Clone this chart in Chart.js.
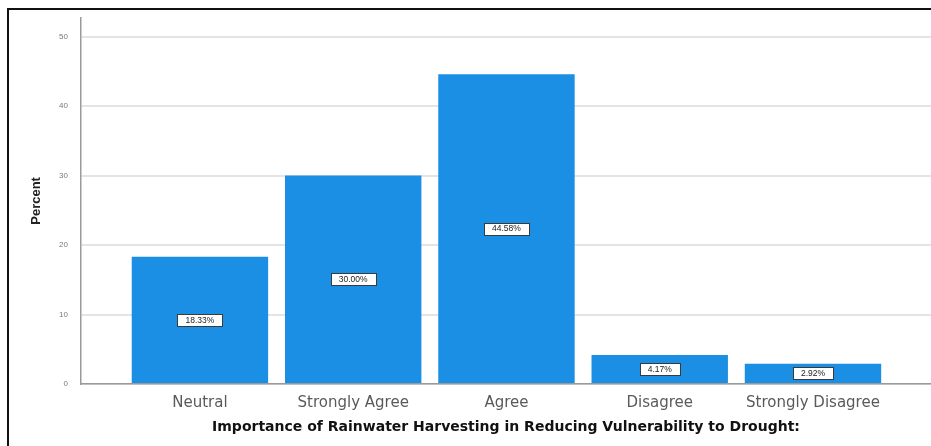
<!DOCTYPE html>
<html>
<head>
<meta charset="utf-8">
<script src="https://cdn.jsdelivr.net/npm/chart.js@4.4.1/dist/chart.umd.min.js"></script>
<style>
  html, body { margin: 0; padding: 0; background: #fff; }
  #wrap { position: relative; width: 931px; height: 446px; }
  #frame {
    position: absolute; left: 7px; top: 8px; right: 0; bottom: 0;
    border-left: 2px solid #111; border-top: 2px solid #111;
    pointer-events: none;
  }
</style>
</head>
<body>
<div id="wrap">
  <canvas id="chart" width="931" height="446"></canvas>
  <div id="frame"></div>
</div>
<script>
// Survey responses (percent of respondents)
const categories = ['Neutral', 'Strongly Agree', 'Agree', 'Disagree', 'Strongly Disagree'];
const percentValues = [18.33, 30.00, 44.58, 4.17, 2.92];
const yTicks = [0, 10, 20, 30, 40, 50];
const xAxisTitle = 'Importance of Rainwater Harvesting in Reducing Vulnerability to Drought:';
const yAxisTitle = 'Percent';

const barColor = '#1a8fe4';

// Boxed percentage label in the middle of each bar
const valueBoxes = {
  id: 'valueBoxes',
  afterDatasetsDraw(chart) {
    const ctx = chart.ctx;
    const meta = chart.getDatasetMeta(0);
    ctx.save();
    ctx.font = '8.5px "Liberation Sans", Arial, sans-serif';
    ctx.textAlign = 'center';
    ctx.textBaseline = 'middle';
    meta.data.forEach((bar, i) => {
      const v = chart.data.datasets[0].data[i].y;
      const text = v.toFixed(2) + '%';
      const cy = (bar.y + bar.base) / 2;
      const w = Math.round(ctx.measureText(text).width + 16);
      const h = 12;
      const x0 = Math.round(bar.x - w / 2) + 0.5;
      const y0 = Math.round(cy - h / 2) + 0.5;
      ctx.fillStyle = '#ffffff';
      ctx.fillRect(x0, y0, w, h);
      ctx.strokeStyle = '#3a3a3a';
      ctx.lineWidth = 1;
      ctx.strokeRect(x0, y0, w, h);
      ctx.fillStyle = '#222';
      ctx.fillText(text, bar.x, cy + 0.5);
    });
    ctx.restore();
  }
};

new Chart(document.getElementById('chart'), {
  type: 'bar',
  data: {
    datasets: [{
      data: percentValues.map((v, i) => ({ x: i, y: v })),
      backgroundColor: barColor,
      borderWidth: 0,
      categoryPercentage: 1,
      barPercentage: 0.89
    }]
  },
  options: {
    responsive: false,
    animation: false,
    events: [],
    layout: { padding: { top: 10, right: 0, left: 0, bottom: 0 } },
    plugins: { legend: { display: false }, tooltip: { enabled: false } },
    scales: {
      x: {
        type: 'linear',
        offset: false,
        min: -0.776,
        max: 4.77,
        grid: { display: false, drawTicks: false, offset: false },
        border: { display: true, color: '#9a9a9a', width: 1.5 },
        afterBuildTicks(scale) { scale.ticks = categories.map((_, i) => ({ value: i })); },
        afterFit(scale) { scale.height = 62; },
        ticks: {
          autoSkip: false,
          maxRotation: 0,
          padding: 10,
          color: '#5a5a5a',
          font: { family: '"DejaVu Sans", sans-serif', size: 15 },
          callback: (v) => categories[v] ?? ''
        },
        title: {
          display: true,
          text: xAxisTitle,
          color: '#111',
          font: { family: '"DejaVu Sans", sans-serif', size: 14, weight: 'bold' },
          padding: { top: 0, bottom: 10 }
        }
      },
      y: {
        min: 0,
        max: 52.7,
        grid: { color: '#e4e4e4', lineWidth: 2, drawTicks: false },
        border: { display: true, color: '#9a9a9a', width: 1.5 },
        afterBuildTicks(scale) { scale.ticks = yTicks.map(v => ({ value: v })); },
        afterFit(scale) { scale.width = 81; },
        ticks: {
          padding: 13,
          color: '#7a7a7a',
          font: { family: '"Liberation Sans", Arial, sans-serif', size: 8 }
        },
        title: {
          display: true,
          text: yAxisTitle,
          color: '#222',
          font: { family: '"Liberation Sans", Arial, sans-serif', size: 13, weight: 'bold' },
          padding: { top: 29, bottom: 0 }
        }
      }
    }
  },
  plugins: [valueBoxes]
});
</script>
</body>
</html>
